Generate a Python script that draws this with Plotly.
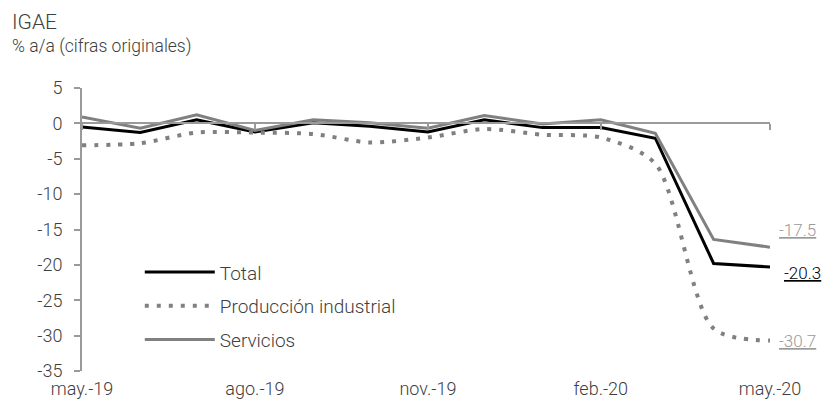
import plotly.graph_objects as go

months = ["2019-05-01", "2019-06-01", "2019-07-01", "2019-08-01", "2019-09-01",
          "2019-10-01", "2019-11-01", "2019-12-01", "2020-01-01", "2020-02-01",
          "2020-03-01", "2020-04-01", "2020-05-01"]
total = [-0.5, -1.3, 0.5, -1.2, 0.1, -0.4, -1.2, 0.5, -0.6, -0.6, -2.1, -19.8, -20.3]
produccion = [-3.1, -2.8, -1.3, -1.3, -1.5, -2.7, -2.0, -0.8, -1.6, -2.0, -5.7, -29.0, -30.7]
servicios = [0.9, -0.7, 1.2, -1.0, 0.5, 0.1, -0.7, 1.1, -0.1, 0.5, -1.4, -16.4, -17.5]

tick_dates = ["2019-05-01", "2019-08-01", "2019-11-01", "2020-02-01", "2020-05-01"]
tick_labels = ["may.-19", "ago.-19", "nov.-19", "feb.-20", "may.-20"]
y_ticks = [5, 0, -5, -10, -15, -20, -25, -30, -35]
y_labels = [str(v) for v in y_ticks]

FONT = "Roboto"
TXT = "#404040"
GRAY = "#808080"

fig = go.Figure()
fig.add_trace(go.Scatter(x=months, y=total, name="Total", mode="lines", legendgroup="a",
                         line=dict(color="#000000", width=3)))
fig.add_trace(go.Scatter(x=months, y=produccion, name="Producción industrial", mode="lines",
                         legendgroup="b",
                         line=dict(color=GRAY, width=4, dash="4px,8px", shape="spline", smoothing=0.8)))
fig.add_trace(go.Scatter(x=months, y=servicios, name="Servicios", mode="lines", legendgroup="c",
                         line=dict(color=GRAY, width=3)))

# zero-line axis with ticks
fig.add_trace(go.Scatter(x=months, y=[None] * len(months), xaxis="x2", showlegend=False,
                         hoverinfo="skip"))

end_labels = [
    (servicios[-1], "#9a9a9a", 7, 17),
    (total[-1], "#000000", 12, -6),
    (produccion[-1], "#9a9a9a", 7, 0),
]
for val, col, xs, ys in end_labels:
    fig.add_annotation(x=months[-1], y=val, xref="x", yref="y", text=f"<u>{val:.1f}</u>",
                       showarrow=False, xanchor="left", yanchor="middle", xshift=xs, yshift=ys,
                       font=dict(family=FONT, size=17, color=col, weight=300))

fig.add_annotation(x=-0.105, y=1.233, xref="paper", yref="paper", text="IGAE",
                   showarrow=False, xanchor="left", yanchor="middle",
                   font=dict(family=FONT, size=21, color=TXT, weight=300))
fig.add_annotation(x=-0.105, y=1.145, xref="paper", yref="paper",
                   text="% a/a (cifras originales)",
                   showarrow=False, xanchor="left", yanchor="middle",
                   font=dict(family=FONT, size=17.5, color=TXT, weight=300))

fig.update_layout(
    width=823, height=408,
    margin=dict(l=82, r=53, t=88, b=37, autoexpand=False),
    paper_bgcolor="white", plot_bgcolor="white",
    font=dict(family=FONT, size=18, color=TXT, weight=300),
    showlegend=True,
    legend=dict(x=0.084, y=0.416, xanchor="left", yanchor="top", bgcolor="rgba(0,0,0,0)",
                font=dict(family=FONT, size=19, color=TXT, weight=300), itemwidth=70,
                tracegroupgap=6),
    xaxis=dict(range=[months[0], months[-1]], tickvals=tick_dates, ticktext=tick_labels,
               showgrid=False, showline=False, zeroline=False, ticks="",
               ticklabelstandoff=5, automargin=False,
               tickfont=dict(family=FONT, size=18, color=TXT, weight=300)),
    xaxis2=dict(range=[months[0], months[-1]], overlaying="x", anchor="free", position=0.875,
                tickvals=tick_dates, ticktext=["" for _ in tick_dates], showgrid=False,
                showline=True, linecolor="#9a9a9a", linewidth=1.5, ticks="outside",
                ticklen=6, tickcolor="#9a9a9a", tickwidth=1.5, side="bottom", automargin=False),
    yaxis=dict(range=[-35, 5], tickvals=y_ticks, ticktext=y_labels, showgrid=False,
               zeroline=False, automargin=False,
               showline=True, linecolor="#9a9a9a", linewidth=2, ticks="outside", ticklen=6,
               tickcolor="#9a9a9a", tickwidth=2, ticklabelstandoff=8,
               tickfont=dict(family=FONT, size=18, color=TXT, weight=300)),
)

fig.write_html("out.html", config={"displayModeBar": False},
               post_script="document.body.style.margin='0';")
